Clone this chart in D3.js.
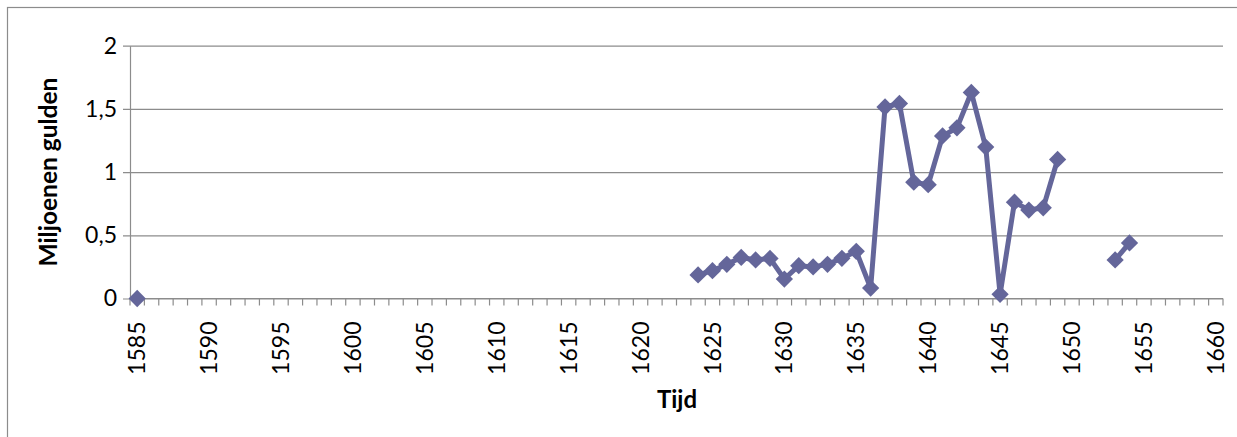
<!DOCTYPE html>
<html>
<head>
<meta charset="utf-8">
<script src="https://cdn.jsdelivr.net/npm/d3@7"></script>
<style>
  html, body { margin: 0; padding: 0; background: #fff; }
  svg { display: block; }
  text { font-family: Lato, "Open Sans", sans-serif; fill: #000; }
</style>
</head>
<body>
<svg id="chart" width="1237" height="437"></svg>
<script>
// ---- data ----
const firstYear = 1585;
const lastYear = 1660;
const categories = d3.range(firstYear, lastYear + 1);
const years = [1585,
  1624, 1625, 1626, 1627, 1628, 1629, 1630, 1631, 1632, 1633, 1634, 1635, 1636,
  1637, 1638, 1639, 1640, 1641, 1642, 1643, 1644, 1645, 1646, 1647, 1648, 1649,
  1653, 1654];
const values = [0,
  0.186, 0.22, 0.27, 0.325, 0.305, 0.317, 0.154, 0.26, 0.25, 0.27, 0.318, 0.373, 0.083,
  1.515, 1.543, 0.92, 0.90, 1.286, 1.35, 1.63, 1.198, 0.033, 0.762, 0.70, 0.718, 1.10,
  0.305, 0.44];
const yTicks = [0, 0.5, 1, 1.5, 2];
const labelYears = categories.filter(y => (y - firstYear) % 5 === 0);
const yTitle = "Miljoenen gulden";
const xTitle = "Tijd";

// ---- layout ----
const svg = d3.select("#chart");
const plot = { left: 130, right: 1223, top: 45.7, bottom: 298.5 };
const color = "#64669A";
const gridColor = "#8C8C8C";

// outer frame
svg.append("rect")
  .attr("x", 7.5).attr("y", 7.5)
  .attr("width", 1237).attr("height", 437)
  .attr("fill", "none").attr("stroke", "#8C8C8C").attr("stroke-width", 1.2);

const x = d3.scaleBand().domain(categories).range([plot.left, plot.right]).paddingInner(0).paddingOuter(0);
const y = d3.scaleLinear().domain([0, 2]).range([plot.bottom, plot.top]);
const fmt = v => String(v).replace(".", ",");

// gridlines + y axis
const yAxis = d3.axisLeft(y).tickValues(yTicks).tickFormat(fmt)
  .tickSize(-(plot.right - plot.left)).tickSizeOuter(0).tickPadding(13);
const gy = svg.append("g").attr("transform", `translate(${plot.left},0)`).call(yAxis);
gy.select(".domain").attr("stroke", gridColor).attr("stroke-width", 1.2);
gy.selectAll(".tick line").attr("stroke", gridColor).attr("stroke-width", 1.2).attr("x1", -7);
gy.selectAll(".tick text").attr("font-size", 23).attr("font-family", "Lato, sans-serif").attr("fill", "#000");

// x axis: ticks between categories
const gx = svg.append("g").attr("transform", `translate(0,${plot.bottom})`);
gx.append("line").attr("x1", plot.left).attr("x2", plot.right)
  .attr("stroke", gridColor).attr("stroke-width", 1.2);
const boundaries = categories.map(c => x(c)).concat([x(lastYear) + x.bandwidth()]);
gx.selectAll("line.tk").data(boundaries).join("line").attr("class", "tk")
  .attr("x1", d => d).attr("x2", d => d).attr("y1", 0).attr("y2", 7)
  .attr("stroke", gridColor).attr("stroke-width", 1.2);
gx.selectAll("text.lbl").data(labelYears).join("text").attr("class", "lbl")
  .attr("transform", d => `translate(${x(d) + x.bandwidth() / 2},${23}) rotate(-90)`)
  .attr("text-anchor", "end").attr("dy", "0.35em")
  .attr("font-size", 23)
  .text(d => d);

// axis titles
svg.append("text")
  .attr("transform", `translate(48,${(plot.top + plot.bottom) / 2}) rotate(-90)`)
  .attr("text-anchor", "middle").attr("dy", "0.35em")
  .attr("font-weight", "bold").attr("font-size", 24.5)
  .text(yTitle);
svg.append("text")
  .attr("x", 677).attr("y", 408)
  .attr("text-anchor", "middle")
  .attr("font-weight", "bold").attr("font-size", 24)
  .text(xTitle);

// series
const data = years.map((yr, i) => ({ year: yr, value: values[i] }));
const cx = d => x(d.year) + x.bandwidth() / 2;
const line = d3.line().x(cx).y(d => y(d.value));
// split into consecutive-year segments
const segments = [];
let cur = [];
data.forEach((d, i) => {
  if (i > 0 && d.year !== data[i - 1].year + 1) { segments.push(cur); cur = []; }
  cur.push(d);
});
segments.push(cur);
svg.append("g").selectAll("path").data(segments).join("path")
  .attr("d", line).attr("fill", "none").attr("stroke", color)
  .attr("stroke-width", 5).attr("stroke-linejoin", "round");
const diamond = d3.symbol().type(d3.symbolDiamond2).size(190);
svg.append("g").selectAll("path").data(data).join("path")
  .attr("transform", d => `translate(${cx(d)},${y(d.value)})`)
  .attr("d", diamond).attr("fill", color);
</script>
</body>
</html>
